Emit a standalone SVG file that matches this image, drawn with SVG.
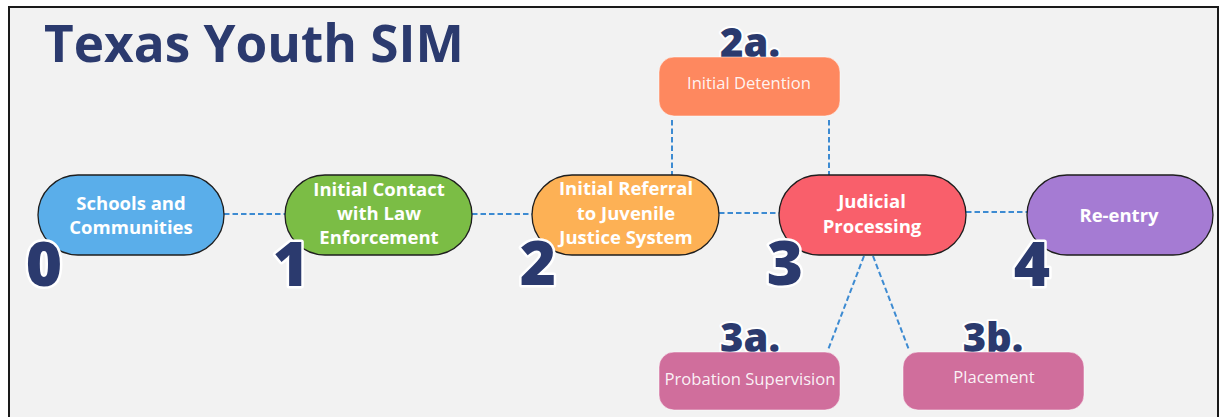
<svg xmlns="http://www.w3.org/2000/svg" width="1226" height="417" viewBox="0 0 1226 417">
<style>
.pill{stroke:#1e1e1e;stroke-width:1.3}
.sub{stroke:#ffffff;stroke-opacity:0.5;stroke-width:1}
.lbl{font-family:"Open Sans","Liberation Sans",sans-serif;font-weight:700;font-size:18.5px;fill:#ffffff;text-anchor:middle}
.slbl{font-family:"Open Sans","Liberation Sans",sans-serif;font-weight:400;font-size:16.6px;fill:#ffffff;fill-opacity:0.92;text-anchor:middle}
.num{font-family:"Open Sans","Liberation Sans",sans-serif;font-weight:800;font-size:62px;fill:#2b3a6e;stroke:#ffffff;stroke-width:5;paint-order:stroke;stroke-linejoin:round;text-anchor:middle}
.snum{font-family:"Open Sans","Liberation Sans",sans-serif;font-weight:800;font-size:40px;fill:#2b3a6e;stroke:#ffffff;stroke-width:4;paint-order:stroke;stroke-linejoin:round;text-anchor:middle}
.conn line{stroke:#3d8bd2;stroke-width:2;stroke-dasharray:5.5 3;fill:none}
</style>
<rect x="0" y="0" width="1226" height="417" fill="#ffffff"/>
<rect x="9" y="7" width="1209" height="420" fill="#f2f2f2" stroke="#1a1a1a" stroke-width="2"/>
<text x="44" y="62" font-family="'Open Sans','Liberation Sans',sans-serif" font-weight="700" font-size="51.3" fill="#2b3a6e">Texas Youth SIM</text>

<g id="connectors" class="conn">
<line x1="224" y1="214" x2="285" y2="214"/>
<line x1="472" y1="214" x2="532" y2="214"/>
<line x1="719" y1="213" x2="779" y2="213"/>
<line x1="966" y1="212" x2="1027" y2="212"/>
<line x1="672" y1="120" x2="672" y2="175"/>
<line x1="829" y1="120" x2="829" y2="175"/>
<line x1="864" y1="256" x2="828" y2="350"/>
<line x1="873" y1="256" x2="909" y2="350"/>
</g>

<g id="node0">
<rect class="pill" x="38" y="175" width="186" height="80" rx="40" fill="#5aaeea"/>
<text class="lbl" x="131" y="210">Schools and</text>
<text class="lbl" x="131" y="234">Communities</text>
<text class="num" x="44" y="286">0</text>
</g>

<g id="node1">
<rect class="pill" x="285" y="175" width="187" height="80" rx="40" fill="#7bbd45"/>
<text class="lbl" x="379" y="196">Initial Contact</text>
<text class="lbl" x="379" y="220">with Law</text>
<text class="lbl" x="379" y="244">Enforcement</text>
<text class="num" x="291" y="286">1</text>
</g>

<g id="node2">
<rect class="pill" x="532" y="175" width="187" height="80" rx="40" fill="#fdb155"/>
<text class="lbl" x="626" y="195">Initial Referral</text>
<text class="lbl" x="626" y="220">to Juvenile</text>
<text class="lbl" x="626" y="244">Justice System</text>
<text class="num" x="538" y="285">2</text>
</g>

<g id="node3">
<rect class="pill" x="779" y="175" width="187" height="80" rx="40" fill="#f95f6b"/>
<text class="lbl" x="872" y="208">Judicial</text>
<text class="lbl" x="872" y="233">Processing</text>
<text class="num" x="785" y="285">3</text>
</g>

<g id="node4">
<rect class="pill" x="1027" y="175" width="186" height="80" rx="40" fill="#a57bd3"/>
<text class="lbl" x="1119" y="222">Re-entry</text>
<text class="num" x="1032" y="286">4</text>
</g>

<g id="node2a">
<text class="snum" x="750" y="57">2a.</text>
<rect class="sub" x="659" y="57" width="181" height="59" rx="15" fill="#fe885f"/>
<text class="slbl" x="749" y="89">Initial Detention</text>
</g>

<g id="node3a">
<text class="snum" x="750" y="352">3a.</text>
<rect class="sub" x="659" y="352" width="181" height="58" rx="15" fill="#d06e9c"/>
<text class="slbl" x="750" y="385">Probation Supervision</text>
</g>

<g id="node3b">
<text class="snum" x="993" y="352">3b.</text>
<rect class="sub" x="903" y="352" width="181" height="58" rx="15" fill="#d06e9c"/>
<text class="slbl" x="994" y="383">Placement</text>
</g>
</svg>
